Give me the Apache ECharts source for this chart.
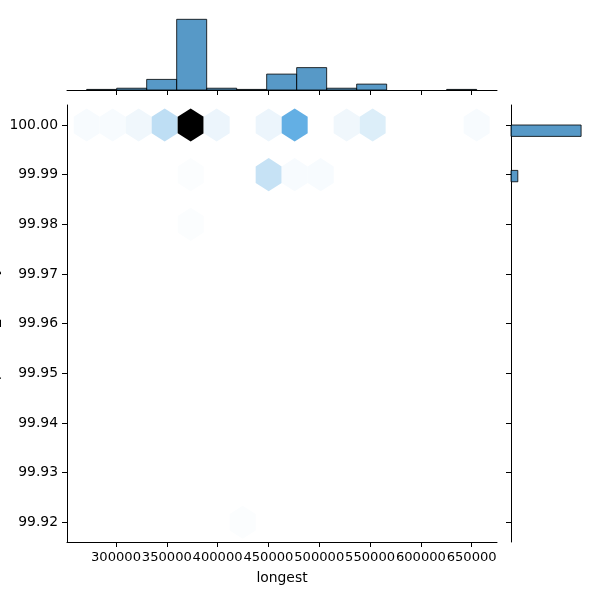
<!DOCTYPE html>
<html>
<head>
<meta charset="utf-8">
<script src="https://cdn.jsdelivr.net/npm/echarts@6/dist/echarts.min.js"></script>
<style>
  html, body { margin: 0; padding: 0; background: #fff; }
  #main { width: 600px; height: 600px; }
</style>
</head>
<body>
<div id="main"></div>
<script>
// tick labels
const xTicks = [300000, 350000, 400000, 450000, 500000, 550000, 600000, 650000];
const yTicks = [99.92, 99.93, 99.94, 99.95, 99.96, 99.97, 99.98, 99.99, 100.00];

// hexbin cells (centre x, centre y, count)
const hexX = [271160, 296742, 322324, 347906, 373488, 399070, 450234, 475816, 526980, 552562, 654894,
              373488, 450234, 475816, 501398,
              373488,
              424652];
const hexY = [100.00, 100.00, 100.00, 100.00, 100.00, 100.00, 100.00, 100.00, 100.00, 100.00, 100.00,
              99.99, 99.99, 99.99, 99.99,
              99.98,
              99.92];
const hexCount = [3, 3, 5, 18, 115, 6, 6, 42, 5, 10, 3,
                  2, 16, 3, 3,
                  2,
                  2];

// top marginal histogram (longest)
const topEdges = [271160, 300678, 330196, 359714, 389232, 418750, 448268, 477786,
                  507304, 536822, 566340, 595858, 625376, 654894];
const topCounts = [1, 3, 18, 120, 3, 1, 27, 38, 3, 10, 0, 0, 1];

// right marginal histogram (y), only the bins that show
const rightLow = [99.98857, 99.99771];
const rightHigh = [99.99086, 100.00];
const rightCounts = [21, 216];

// hexbin lattice step (data units)
const hexSx = 25582;
const hexSy = 0.01;

const xMin = 251800, xMax = 674900;
const yMin = 99.91603, yMax = 100.00403;

// seaborn hex colormap: C0 hue/sat, lightness 1 -> 0
const hexColors = ['#ffffff', '#d7ebf8', '#b0d7f1', '#88c2eb', '#61aee4', '#399add',
                   '#2283c6', '#1b699e', '#144e77', '#0e344f', '#071a28', '#000000'];

const font = 'DejaVu Sans';
const black = '#000';

const hexData = hexX.map((x, i) => [x, hexY[i], hexCount[i]]);
const topData = topCounts.map((c, i) => [topEdges[i], topEdges[i + 1], c]);
const rightData = rightCounts.map((c, i) => [rightLow[i], rightHigh[i], c]);

const lineStyle = { color: black, width: 1 };
const tickStyle = { show: true, length: 5, inside: false, lineStyle: lineStyle };
const barStyle = { fill: 'rgba(31,119,180,0.75)', stroke: 'rgba(0,0,0,0.8)', lineWidth: 1 };

const chart = echarts.init(document.getElementById('main'), null, { renderer: 'canvas' });

const option = {
  backgroundColor: '#fff',
  animation: false,
  grid: [
    { left: 67, top: 105, width: 430, height: 437, outerBoundsMode: 'none', containLabel: false },
    { left: 67, top: 4, width: 430, height: 86, outerBoundsMode: 'none', containLabel: false },
    { left: 511, top: 105, width: 86, height: 437, outerBoundsMode: 'none', containLabel: false }
  ],
  xAxis: [
    {
      gridIndex: 0, type: 'value', min: xMin, max: xMax,
      axisLine: { show: true, onZero: false, lineStyle: lineStyle },
      axisTick: Object.assign({ customValues: xTicks }, tickStyle),
      // a bit smaller than the y labels, otherwise echarts drops the overlapping ones
      axisLabel: {
        customValues: xTicks, margin: 9, fontSize: 13.1, fontFamily: font, color: black,
        showMinLabel: true, showMaxLabel: true, hideOverlap: false, interval: 0,
        formatter: v => String(v)
      },
      splitLine: { show: false },
      name: 'longest', nameLocation: 'middle', nameGap: 29, nameMoveOverlap: false,
      nameTextStyle: { fontSize: 13.9, fontFamily: font, color: black }
    },
    {
      gridIndex: 1, type: 'value', min: xMin, max: xMax,
      axisLine: { show: true, onZero: false, lineStyle: lineStyle },
      axisTick: Object.assign({ customValues: xTicks }, tickStyle),
      axisLabel: { show: false },
      splitLine: { show: false }
    },
    {
      gridIndex: 2, type: 'value', min: 0, max: 265, show: false
    }
  ],
  yAxis: [
    {
      gridIndex: 0, type: 'value', min: yMin, max: yMax,
      axisLine: { show: true, onZero: false, lineStyle: lineStyle },
      axisTick: Object.assign({ customValues: yTicks }, tickStyle),
      axisLabel: {
        customValues: yTicks, margin: 9, fontSize: 13.9, fontFamily: font, color: black,
        showMinLabel: true, showMaxLabel: true,
        formatter: v => v.toFixed(2)
      },
      splitLine: { show: false },
      // mostly cut off by the left edge, as in the original
      name: 'percent_identity', nameLocation: 'middle', nameGap: 66, nameRotate: 90,
      nameMoveOverlap: false,
      nameTextStyle: { fontSize: 13.9, fontFamily: font, color: black }
    },
    {
      gridIndex: 1, type: 'value', min: 0, max: 146, show: false
    },
    {
      gridIndex: 2, type: 'value', min: yMin, max: yMax, position: 'left',
      axisLine: { show: true, onZero: false, lineStyle: lineStyle },
      axisTick: Object.assign({ customValues: yTicks }, tickStyle),
      axisLabel: { show: false },
      splitLine: { show: false }
    }
  ],
  visualMap: {
    show: false, type: 'continuous', seriesIndex: 0, dimension: 2,
    min: 1, max: 115,
    inRange: { color: hexColors }
  },
  series: [
    {
      // hexbin
      type: 'custom', xAxisIndex: 0, yAxisIndex: 0,
      encode: { x: 0, y: 1 },
      data: hexData,
      renderItem: function (params, api) {
        const c = api.coord([api.value(0), api.value(1)]);
        const s = api.size([hexSx, hexSy / 3]);
        const w = s[0] / 2, h = s[1];
        return {
          type: 'polygon',
          shape: {
            points: [
              [c[0] + w, c[1] - h / 2], [c[0] + w, c[1] + h / 2], [c[0], c[1] + h],
              [c[0] - w, c[1] + h / 2], [c[0] - w, c[1] - h / 2], [c[0], c[1] - h]
            ]
          },
          style: { fill: api.visual('color') }
        };
      }
    },
    {
      // top marginal
      type: 'custom', xAxisIndex: 1, yAxisIndex: 1,
      encode: { x: [0, 1], y: 2 },
      data: topData,
      renderItem: function (params, api) {
        if (api.value(2) <= 0) return;
        const p0 = api.coord([api.value(0), api.value(2)]);
        const p1 = api.coord([api.value(1), 0]);
        return {
          type: 'rect',
          shape: { x: p0[0], y: p0[1], width: p1[0] - p0[0], height: p1[1] - p0[1] },
          style: barStyle
        };
      }
    },
    {
      // right marginal
      type: 'custom', xAxisIndex: 2, yAxisIndex: 2,
      encode: { y: [0, 1], x: 2 },
      data: rightData,
      renderItem: function (params, api) {
        const p0 = api.coord([0, api.value(1)]);
        const p1 = api.coord([api.value(2), api.value(0)]);
        return {
          type: 'rect',
          shape: { x: p0[0], y: p0[1], width: p1[0] - p0[0], height: p1[1] - p0[1] },
          style: barStyle
        };
      }
    }
  ]
};

chart.setOption(option);
</script>
</body>
</html>
